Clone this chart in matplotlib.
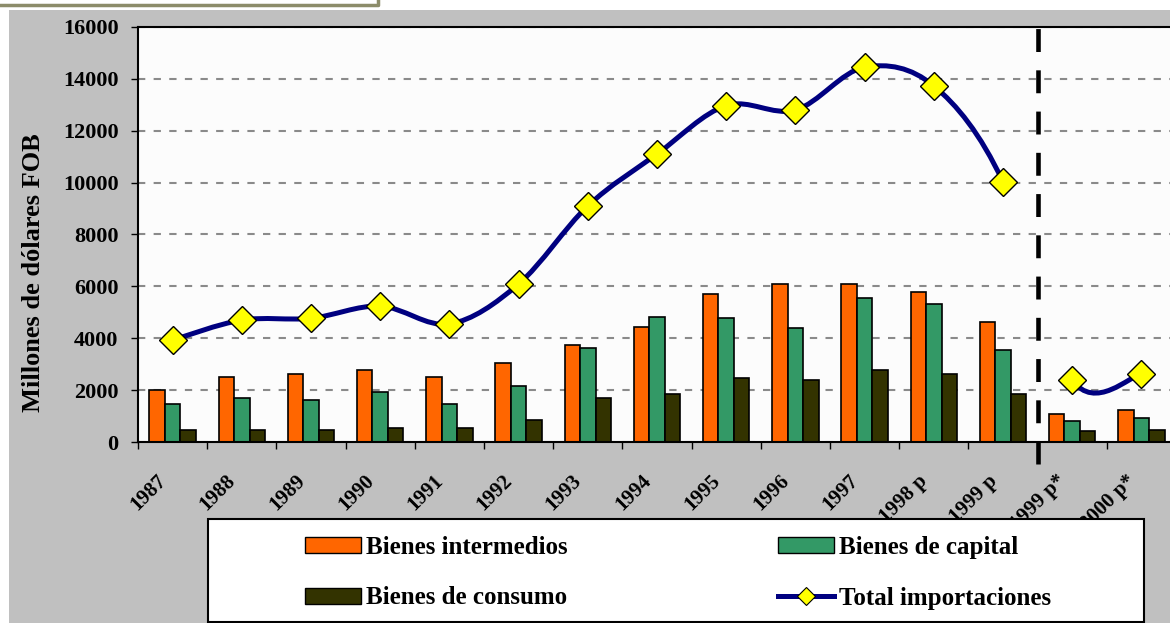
import numpy as np
import matplotlib
matplotlib.use('Agg')
import matplotlib.pyplot as plt
from matplotlib.patches import Rectangle, Patch, PathPatch
from matplotlib.lines import Line2D
from matplotlib.path import Path
from matplotlib.transforms import ScaledTranslation

years = ['1987', '1988', '1989', '1990', '1991', '1992', '1993', '1994',
         '1995', '1996', '1997', '1998 p', '1999 p', '1999 p*', '2000 p*']
intermedios = [2000, 2520, 2610, 2780, 2520, 3060, 3750, 4450, 5690, 6080,
               6080, 5770, 4610, 1070, 1220]
capital = [1450, 1680, 1610, 1920, 1450, 2150, 3610, 4830, 4770, 4380,
           5540, 5310, 3530, 820, 910]
consumo = [450, 450, 450, 530, 530, 840, 1690, 1840, 2460, 2390, 2780,
           2610, 1840, 440, 450]
total = [3930, 4700, 4770, 5240, 4550, 6090, 9100, 11100, 12970, 12800,
         14450, 13730, 10030, 2390, 2610]
# no line is drawn between these two points (1999 p -> 1999 p*)
gap_after = 12

plt.rcParams['font.family'] = ['Liberation Serif', 'DejaVu Serif']
plt.rcParams['font.weight'] = 'bold'

W, H = 1170, 623
fig = plt.figure(figsize=(W / 100, H / 100), dpi=100, facecolor='white')

# grey chart background and the box edge at the top left
fig.patches.append(Rectangle((9 / W, 0), 1, (H - 10) / H, transform=fig.transFigure,
                             facecolor='#c0c0c0', edgecolor='none', zorder=-2))
fig.lines.append(Line2D([0, 378 / W, 378 / W], [(H - 5) / H, (H - 5) / H, 1],
                        transform=fig.transFigure, color='#8c8c6a', lw=2.5))

ax = fig.add_axes([138 / W, (H - 442) / H, (1176 - 138) / W, 415 / H])
ax.set_facecolor('#fcfcfc')

x = np.arange(len(years))
bw = 0.224
ax.bar(x - bw, intermedios, bw, color='#ff6600', edgecolor='black', lw=1.2, zorder=2)
ax.bar(x, capital, bw, color='#339966', edgecolor='black', lw=1.2, zorder=2)
ax.bar(x + bw, consumo, bw, color='#333300', edgecolor='black', lw=1.2, zorder=2)


def smooth_line(xs, ys, skip):
    # cubic bezier through the points, like the smoothed line in Excel
    pts = np.column_stack([xs, ys]).astype(float)
    n = len(pts)
    verts, codes = [], []
    start = True
    for i in range(n - 1):
        if i == skip:
            start = True
            continue
        p0 = pts[i - 1] if i > 0 else pts[i]
        p3 = pts[i + 2] if i + 2 < n else pts[i + 1]
        c1 = pts[i] + (pts[i + 1] - p0) / 6
        c2 = pts[i + 1] - (p3 - pts[i]) / 6
        if start:
            verts.append(pts[i])
            codes.append(Path.MOVETO)
            start = False
        verts += [c1, c2, pts[i + 1]]
        codes += [Path.CURVE4] * 3
    return Path(verts, codes)


ax.add_patch(PathPatch(smooth_line(x, total, gap_after), facecolor='none',
                       edgecolor='#000080', lw=3.6, zorder=3, capstyle='round'))
ax.plot(x, total, linestyle='none', marker='D', ms=14, mfc='#ffff00',
        mec='black', mew=1, zorder=4)

ax.axvline(gap_after + 0.5, ymin=-0.053, ymax=1, color='black', lw=3.3,
           dashes=(5, 4), clip_on=False, zorder=5)

ax.set_xlim(-0.5, len(years) - 0.5)
ax.set_ylim(0, 16000)
ax.set_yticks(np.arange(0, 16001, 2000))
ax.yaxis.grid(True, color='#8a8a8a', lw=1.5, dashes=(3.5, 4))
ax.set_axisbelow(True)

ax.set_xticks(x, years)
ax.set_xticks(np.arange(-0.5, len(years), 1), minor=True)
ax.tick_params(axis='x', which='major', length=0, pad=21, labelsize=15)
ax.tick_params(axis='x', which='minor', length=5, width=1, direction='out')
ax.tick_params(axis='y', length=5, width=1, direction='out', pad=9, labelsize=16)
for lab in ax.get_xticklabels():
    lab.set_rotation(45)
    lab.set_rotation_mode('anchor')
    lab.set_ha('right')
    lab.set_va('top')
    lab.set_transform(lab.get_transform() + ScaledTranslation(-0.16, 0, fig.dpi_scale_trans))

for s in ['top', 'left', 'bottom']:
    ax.spines[s].set_linewidth(1.5)
ax.spines['right'].set_visible(False)

ax.set_ylabel('Millones de dólares FOB', fontsize=19, fontweight='bold')
ax.yaxis.set_label_coords(-0.090, 0.407)

# legend box below the chart
fig.patches.append(Rectangle((208 / W, 1 / H), (1144 - 208) / W, (622 - 519) / H,
                             transform=fig.transFigure, facecolor='white',
                             edgecolor='black', lw=1.5, zorder=4))
handles = [Patch(facecolor='#ff6600', edgecolor='black'),
           Patch(facecolor='#333300', edgecolor='black'),
           Patch(facecolor='#339966', edgecolor='black'),
           Line2D([], [], color='#000080', lw=3.6, marker='D', ms=9,
                  mfc='#ffff00', mec='black', mew=0.8)]
labels = ['Bienes intermedios', 'Bienes de consumo', 'Bienes de capital',
          'Total importaciones']
fig.legend(handles, labels, ncol=2, loc='upper left',
           bbox_to_anchor=(305 / W, (H - 536) / H), frameon=False,
           prop={'family': 'Liberation Serif', 'weight': 'bold', 'size': 18},
           handlelength=2.24, handleheight=0.6, handletextpad=0.2,
           columnspacing=8.4, labelspacing=1.1, borderpad=0, borderaxespad=0)

fig.savefig('out.png', dpi=100, facecolor=fig.get_facecolor())
